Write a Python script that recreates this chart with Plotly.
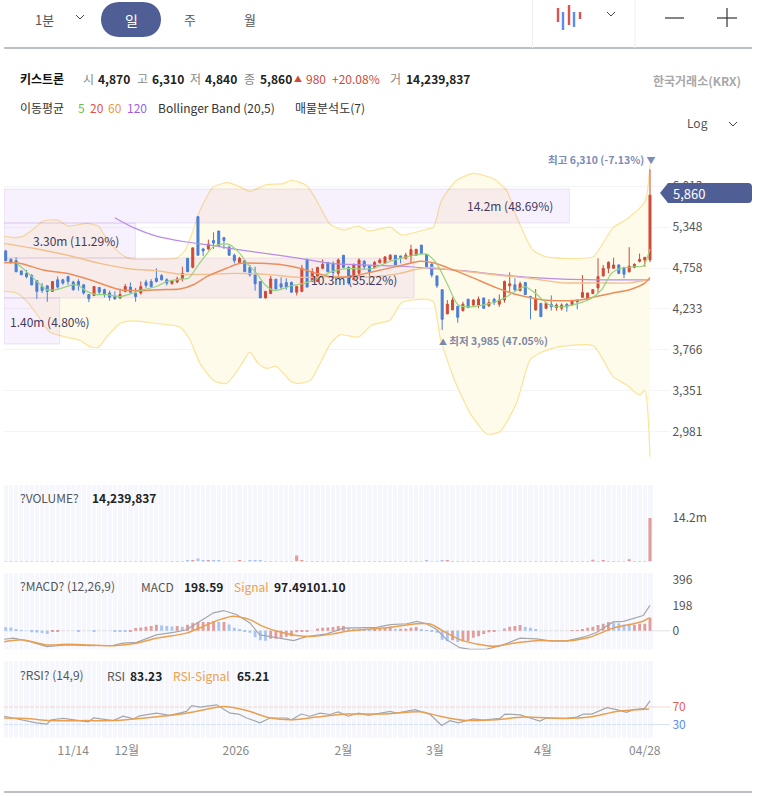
import plotly.graph_objects as go

W, H = 767, 797

# candles
opens = [4996,4877,4859,4718,4686,4655,4590,4512,4522,4450,4600,4600,4642,4570,4578,4535,4410,4397,4500,4472,4430,4385,4368,4450,4505,
         4422,4430,4570,4578,4620,4655,4600,4548,4570,4612,4892,4768,5510,5025,5025,5146,5289,5190,5050,4935,4835,4859,4767,4664,4578,
         4368,4422,4608,4548,4565,4565,4440,4450,4880,4578,4578,4754,4835,4822,4686,4935,4767,4600,4686,4850,4785,4762,4830,4822,4877,
         4935,4925,4892,4925,4935,5080,4945,4812,4652,4472,4172,4220,4265,4212,4352,4280,4280,4368,4270,4352,4290,4342,4522,4535,4460,
         4565,4385,4220,4300,4240,4290,4250,4240,4290,4280,4342,4375,4352,4422,4495,4652,4754,4754,4800,4762,4708,4767,4850,4868,4870]
highs = [5010,4890,4905,4725,4731,4675,4590,4557,4522,4580,4642,4612,4652,4587,4608,4535,4410,4512,4500,4485,4460,4450,4485,4545,4565,
         4495,4578,4600,4608,4754,4675,4620,4595,4642,4775,4892,5040,5520,5040,5160,5270,5289,5190,5073,4958,4912,4859,4800,4775,4578,
         4450,4652,4608,4632,4620,4578,4522,4800,4880,4754,4767,4877,4835,4850,4892,4935,4785,4822,4892,4868,4800,4855,4892,4912,4950,
         4935,4925,4970,5085,5020,5080,4945,4822,4652,4472,4342,4375,4265,4320,4352,4350,4385,4368,4352,4368,4410,4590,4700,4620,4578,
         4565,4395,4480,4300,4320,4400,4300,4300,4300,4340,4342,4664,4430,4472,4892,4800,4850,4900,4808,4775,5050,4822,4958,4912,6310]
lows = [4850,4820,4700,4660,4620,4526,4355,4430,4320,4448,4485,4535,4535,4460,4460,4410,4315,4395,4410,4375,4333,4342,4355,4437,4430,
        4320,4410,4495,4495,4565,4590,4526,4540,4557,4578,4708,4754,4935,4925,5006,5025,5073,5025,4925,4822,4822,4708,4642,4460,4368,
        4360,4422,4480,4472,4472,4430,4400,4440,4505,4578,4578,4740,4708,4620,4642,4754,4535,4600,4642,4740,4535,4754,4822,4822,4859,
        4800,4822,4877,4822,4935,4958,4754,4632,4495,3985,4172,4220,4068,4200,4240,4270,4240,4240,4258,4280,4258,4310,4430,4450,4450,
        4410,4108,4212,4140,4228,4212,4212,4212,4200,4275,4228,4368,4350,4420,4430,4642,4686,4745,4675,4620,4695,4754,4835,4775,4840]
closes = [4859,4830,4708,4668,4640,4535,4450,4460,4450,4578,4505,4557,4578,4472,4526,4430,4358,4512,4440,4410,4375,4358,4410,4512,4440,
          4385,4512,4526,4512,4578,4600,4557,4590,4612,4686,4708,5040,4935,4996,5095,5110,5073,5146,4935,4859,4892,4708,4664,4548,4368,
          4450,4612,4480,4505,4505,4440,4512,4754,4505,4708,4767,4808,4708,4697,4868,4767,4557,4800,4868,4775,4708,4835,4868,4912,4935,
          4800,4905,4935,5015,5020,4958,4775,4664,4522,4108,4290,4342,4132,4290,4250,4342,4352,4240,4310,4310,4342,4578,4548,4472,4548,
          4410,4375,4352,4140,4300,4258,4280,4280,4258,4333,4320,4437,4430,4472,4642,4754,4835,4800,4686,4675,4785,4808,4877,4905,5860]
index = list(range(len(closes)))

# moving averages and bollinger band: (candle position, price)
ma5_x = [2.1,4,6,7.9,9.8,11.7,13.7,15.6,17.5,19.4,22,24.6,26.5,29,31,34.2,35.2,37.1,39,40.3,42.8,44.8,46.7,48.3,49.9,51.8,55,57.6,60.2,62.7,
         66.3,68.8,70.7,74,77.2,81,82.9,84.9,87.1,89.4,93.2,95.1,96.1,98,99.9,101.9,104.4,107,110.2,112.8,114.7,116.6,118.5,121.1,122.7,124]
ma5 = [4822,4708,4578,4472,4472,4512,4535,4450,4410,4410,4385,4430,4472,4512,4578,4612,4620,4800,4982,5073,5095,4982,4800,4686,4535,4460,4522,4557,4620,4708,
       4754,4740,4754,4850,4912,4950,4822,4557,4280,4258,4300,4342,4368,4450,4512,4430,4290,4258,4300,4368,4472,4686,4754,4775,4785,5025]
ma20_x = [-0.3,2.1,4,7.2,11.7,16.2,19.4,22,25.8,29.7,33.5,36.1,38.7,42.5,45.1,48.9,53.4,56.6,59.8,62.4,66.3,70.7,76.5,79.7,82.3,84.9,89.4,94.5,98.3,103.5,107.3,110.5,113.7,116.9,120.1,123,124]
ma20 = [4830,4830,4800,4731,4686,4600,4526,4472,4460,4472,4480,4535,4642,4754,4822,4822,4800,4754,4686,4642,4642,4708,4800,4850,4830,4767,4642,4495,4410,4342,4333,4342,4385,4430,4472,4557,4632]
ma60_x = [-0.3,5.3,11.7,18.1,24.6,29,33.5,38.7,43.8,50.2,56.6,62.4,70,75.9,78.4,81.65,86.1,94.5,100.9,107.3,113.7,120.1,123.7]
ma60 = [5106,5034,4938,4822,4740,4722,4675,4672,4686,4672,4632,4642,4638,4686,4731,4767,4731,4664,4620,4560,4560,4560,4600]
ma120_x = [21,24.6,29,34.8,39.9,43.8,50.2,56.6,62.4,68.8,75.2,81.65,88,94.5,100.9,107.3,113.7,124]
ma120 = [5494,5340,5212,5125,5073,5025,4958,4892,4822,4800,4785,4754,4722,4672,4632,4608,4600,4600]

bb_up_x = [-0.3,1.5,3.4,5.3,7.2,10.1,12,15.6,17.8,19.1,20.7,23,24.6,29,32.9,34.5,35.8,37.4,40,42.8,45.1,47,50.2,53.4,55,57.9,59.8,62.4,65,67.9,69.8,74,76.2,81,82.3,83.9,86.8,90,93.8,96.4,98.3,101.5,104.1,107.3,110.5,113.1,116.9,119.5,123,124]
bb_up = [5212,5190,5212,5316,5442,5455,5364,5405,5364,5212,5050,4912,4880,4880,4892,5006,5240,5614,6000,6075,6000,5925,6040,6055,6115,6025,5776,5395,5305,5364,5289,5348,5230,5316,5340,5776,6115,6235,6145,5940,5510,5006,4912,4892,4892,4912,5340,5470,5745,6400]
bb_low_x = [-0.3,2.1,4.4,6.3,8.5,11.7,14.3,16.2,17.8,19.4,22,24.6,29,33.5,35.5,37.4,40,42.5,45.1,47,48.6,50.2,52.1,54.7,56,58.6,60.5,62.4,64.3,67.9,70.4,74,76.2,80.4,82.3,83.6,86.1,89.4,92.6,95.1,98.3,100.9,103.1,106.7,113.1,116.9,119.5,122,123,124]
bb_low = [4450,4430,4300,4140,3960,3905,3870,3800,3790,3905,4060,4090,4060,4020,3870,3620,3450,3420,3590,3740,3620,3570,3590,3450,3420,3450,3620,3825,3930,3905,4040,4100,4310,4352,4320,3905,3487,3140,2960,2979,3231,3657,3740,3800,3808,3487,3405,3309,3356,2773]

# volume by price zones, in millions
zone_low = [5411, 4896, 4367, 3828]
zone_high = [5964, 5411, 4896, 4367]
zone_volume = [14.2, 3.30, 10.3, 1.40]
zone_text = ["14.2m (48.69%)", "3.30m (11.29%)", "10.3m (35.22%)", "1.40m (4.80%)"]

# daily volume, in millions (most days are too small to see next to the last one)
volume = [0.02]*35 + [0.3,0.5,1.0,0.35,0.2,0.35,0.4,0.02,0.02,0.02,0.4,0.02,0.3,0.3,0.3,0.02,0.02,0.02,0.02,0.02,0.02,2.0,0.4] + [0.02]*23 + \
         [0.4,0.02,0.02,0.3,0.3] + [0.02]*27 + [0.6,0.02,0.3,0.02,0.02,0.02,0.02,0.7,0.02,0.02,0.02,14.24]

macd_x = [-0.3,1.5,4.7,7.9,11.7,16.2,20.7,22.6,25.2,29,32.3,34.8,37.4,40,41.9,44.4,47,48.9,52.1,55.4,57.9,61.8,65,68.2,71.4,74,77.2,79.1,81,83,84.9,87.4,89.4,92.6,95.1,99,102.2,104.7,108,111.2,113.7,116.9,118.9,122.7,124]
macd = [-66,-58,-85,-124,-111,-116,-113,-97,-90,-32,-13,8,74,140,158,127,61,-32,-53,-77,-45,-24,21,21,26,48,55,74,55,8,-71,-132,-145,-143,-119,-58,-63,-79,-79,-50,-13,69,74,119,198]
macd_sig_x = [-0.3,3.4,7.9,11.7,16.2,20.7,25.2,29,34.8,38,41.2,43.8,47,49.5,52.8,56,58.6,63,66.3,72.7,79.1,81.7,84.9,88.1,93.8,98.3,102.2,108,112.4,116.9,120.8,122.7,123.8]
macd_sig = [-85,-71,-111,-105,-111,-116,-97,-58,-18,34,87,113,87,34,-10,-37,-45,-24,0,21,55,53,-18,-79,-121,-93,-77,-79,-50,21,55,74,100]
macd_hist = [28,26,12,4,0,-12,-14,-18,-26,-10,-6,0,0,0,-4,0,0,-4,0,0,0,-4,-6,-8,-6,21,26,32,37,47,42,37,34,37,32,48,63,69,69,69,77,69,69,50,24,11,-5,-16,-50,-74,
             -77,-63,-63,-55,-47,-42,-11,-5,-5,0,18,24,26,29,37,37,24,13,16,13,11,13,16,21,32,16,16,16,24,29,11,5,-3,-16,-69,-82,-74,-87,-82,-79,-55,-42,-26,-11,-5,0,18,32,37,45,
             29,24,11,0,0,0,0,0,0,3,5,11,24,32,45,55,69,63,58,50,48,48,55,55,103]

rsi_x = [-0.3,2.8,5.9,7.9,8.8,11.1,13.7,15.9,16.9,20.7,22.6,24.6,25.8,29,31.6,34.8,35.8,37.4,40.6,43.2,44.8,46.4,48.9,50.9,54,55,56.9,58.5,60.5,62.4,64,65.9,67.9,69.8,74,75.2,78.8,81.7,83.9,85.5,87.1,90,91.9,95.1,96.1,99,100.9,102.8,104.1,108,109.9,111.2,112.8,115.7,117.6,119.5,120.8,123,124]
rsi = [49,41,34,31,41,44,40,36,45,39,49,43,50,56,51,60,73,70,75,56,54,45,34,45,45,41,54,49,56,53,59,49,56,51,60,56,64,53,28,39,34,43,40,44,54,52,45,38,45,44,47,54,54,68.5,64,58,64,67,84]
rsi_sig_x = [-0.3,4,8.5,15.6,20.7,25.8,34.8,41.9,46.4,50.9,55.4,59.8,65.6,72.7,79.7,83.6,88.1,94.5,99.6,107.3,112.4,117.6,121.4,123.8]
rsi_sig = [45,44,39,39,39,44,56,71,62,45,41,47,54,54,59,49,40,41,47,44,47,60,64,65.5]

# axis labels
date_pos = [13, 23.3, 44.3, 65, 82.6, 103.4, 123]
date_text = ["11/14", "12월", "2026", "2월", "3월", "4월", "04/28"]
price_ticks = [6013, 5348, 4758, 4233, 3766, 3351, 2981]
price_text = ["6,013", "5,348", "4,758", "4,233", "3,766", "3,351", "2,981"]

RED, BLUE = "#d04a37", "#4a7fd4"
GRID = "#f3f4f6"
FONT = "Noto Sans CJK KR"
X_RANGE = [-0.33, 124.58]


def fx(px):
    return px / W


def fy(py):
    return 1 - py / H


fig = go.Figure()

# bollinger band first, at the back
fig.add_trace(go.Scatter(x=bb_low_x, y=bb_low, mode="lines", line=dict(color="#fbe39a", width=1.2, shape="spline", smoothing=0.6),
                         xaxis="x", yaxis="y"))
fig.add_trace(go.Scatter(x=bb_up_x, y=bb_up, mode="lines", line=dict(color="#fbe39a", width=1.2, shape="spline", smoothing=0.6),
                         fill="tonexty", fillcolor="#fffbea", xaxis="x", yaxis="y"))

# price zones on their own axis in millions
for lo, hi, v in zip(zone_low, zone_high, zone_volume):
    fig.add_trace(go.Scatter(x=[0, v, v, 0, 0], y=[lo, lo, hi, hi, lo], mode="lines", fill="toself",
                             fillcolor="rgba(165,90,235,0.09)", line=dict(color="rgba(130,70,190,0.12)", width=1),
                             xaxis="x2", yaxis="y"))

# candles and averages
fig.add_trace(go.Candlestick(x=index, open=opens, high=highs, low=lows, close=closes, whiskerwidth=0,
                             increasing=dict(line=dict(color=RED, width=1), fillcolor=RED),
                             decreasing=dict(line=dict(color=BLUE, width=1), fillcolor=BLUE),
                             xaxis="x3", yaxis="y"))
for xs, ys, col, w in [(ma120_x, ma120, "#b88ce8", 1.2), (ma60_x, ma60, "#f2bf8e", 1.4),
                       (ma20_x, ma20, "#ec8d5c", 1.5), (ma5_x, ma5, "#93d47e", 1.2)]:
    fig.add_trace(go.Scatter(x=xs, y=ys, mode="lines", line=dict(color=col, width=w, shape="spline", smoothing=0.7),
                             xaxis="x3", yaxis="y"))

# volume panel
vol_colors = ["#e39c9c" if c >= o else "#a9c4f5" for o, c in zip(opens, closes)]
fig.add_trace(go.Bar(x=index, y=volume, width=0.6, marker=dict(color=vol_colors, line_width=0), xaxis="x4", yaxis="y2"))

# macd panel, bars are red when rising and blue when falling
hist_colors = ["#a9c4f5"] + ["#e39c9c" if macd_hist[i] >= macd_hist[i - 1] else "#a9c4f5" for i in range(1, len(macd_hist))]
fig.add_trace(go.Bar(x=index, y=macd_hist, width=0.55, marker=dict(color=hist_colors, line_width=0), xaxis="x5", yaxis="y3"))
fig.add_trace(go.Scatter(x=macd_x, y=macd, mode="lines", line=dict(color="#a3a6ab", width=1.2), xaxis="x5", yaxis="y3"))
fig.add_trace(go.Scatter(x=macd_sig_x, y=macd_sig, mode="lines", line=dict(color="#ea9f4f", width=1.5, shape="spline", smoothing=0.7),
                         xaxis="x5", yaxis="y3"))

# rsi panel
fig.add_trace(go.Scatter(x=rsi_x, y=rsi, mode="lines", line=dict(color="#a3a6ab", width=1.2), xaxis="x6", yaxis="y4"))
fig.add_trace(go.Scatter(x=rsi_sig_x, y=rsi_sig, mode="lines", line=dict(color="#ea9f4f", width=1.5, shape="spline", smoothing=0.7),
                         xaxis="x6", yaxis="y4"))

shapes = []


def line(x0, y0, x1, y1, color, width=1):
    shapes.append(dict(type="line", xref="paper", yref="paper", x0=fx(x0), y0=fy(y0), x1=fx(x1), y1=fy(y1),
                       line=dict(color=color, width=width)))


def path(points, color=None, fill=None, width=1.2, layer="above"):
    # points are plain page pixels
    d = ""
    for p in points:
        if isinstance(p, str):
            d += p
        else:
            d += f"{fx(p[0]):.5f},{fy(p[1]):.5f} "
    s = dict(type="path", xref="paper", yref="paper", path=d, layer=layer, line=dict(width=0))
    if color:
        s["line"] = dict(color=color, width=width)
    if fill:
        s["fillcolor"] = fill
    shapes.append(s)


def chevron(x, y, color="#444"):
    path(["M", (x - 4, y - 2), "L", (x, y + 2), "L", (x + 4, y - 2)], color=color, width=1)


# panel backgrounds under the stripes
for top, bot in [(485, 561.5), (573, 649.5), (661, 737.7)]:
    shapes.append(dict(type="rect", xref="paper", yref="paper", x0=fx(4), x1=fx(653), y0=fy(bot), y1=fy(top),
                       fillcolor="#f5f7fc", line=dict(width=0), layer="below"))

# reference lines that run past the panel
shapes.append(dict(type="line", xref="paper", yref="y3", x0=fx(4), x1=fx(670), y0=0, y1=0, line=dict(color="#dfe0e4", width=1), layer="below"))
shapes.append(dict(type="line", xref="paper", yref="y4", x0=fx(4), x1=fx(670), y0=70, y1=70, line=dict(color="#f5d5d2", width=1), layer="below"))
shapes.append(dict(type="line", xref="paper", yref="y4", x0=fx(4), x1=fx(670), y0=30, y1=30, line=dict(color="#d4e2fb", width=1), layer="below"))

# top toolbar
path(["M", (119, 2), "L", (143, 2), "C", (167, 2), " ", (167, 37), " ", (143, 37), "L", (119, 37), "C", (95, 37), " ", (95, 2), " ", (119, 2), "Z"],
     fill="#4f5f96")
line(4, 48, 752, 48, "#7b808a", 1)
line(532.5, 0, 532.5, 48, "#eeeeee", 1)
line(635, 0, 635, 48, "#eeeeee", 1)
line(4, 792, 752, 792, "#7b808a", 1)
chevron(80, 17)
chevron(611, 14)
chevron(733, 124)
line(665, 18, 684, 18, "#333333", 1.2)
line(717, 18, 737, 18, "#333333", 1.2)
line(727, 8, 727, 27, "#333333", 1.2)
for x0, y0, y1, col in [(558, 8, 22, "#d9534f"), (563, 12, 30, "#5b8def"), (569, 5, 25, "#d9534f"),
                        (574, 12, 27, "#5b8def"), (580, 12, 19, "#d9534f")]:
    line(x0, y0, x0, y1, col, 2.4)

# price flag
path(["M", (660, 193), "L", (668, 183), "L", (748, 183), "Q", (752, 183), " ", (752, 187), "L", (752, 199), "Q", (752, 203), " ", (748, 203), "L", (668, 203), "Z"],
     fill="#4f5f96")

annotations = []


def label(text, x, y, size=12, color="#333333", anchor="left"):
    annotations.append(dict(text=text, xref="paper", yref="paper", x=fx(x), y=fy(y), xanchor=anchor, yanchor="middle",
                            showarrow=False, borderpad=0, borderwidth=0, font=dict(size=size, color=color, family=FONT)))


label("1분", 44, 19, 13, "#555555", "center")
label("일", 131, 20, 14, "#ffffff", "center")
label("주", 190, 19, 13, "#555555", "center")
label("월", 250, 19, 13, "#555555", "center")

label("<b>키스트론</b>", 20, 78, 12, "#111111")
for text, x in [("시", 83), ("고", 137), ("저", 190), ("종", 244), ("거", 390)]:
    label(text, x, 78, 12, "#888888")
for text, x in [("4,870", 98), ("6,310", 152), ("4,840", 205), ("5,860", 260), ("14,239,837", 406)]:
    label(f"<b>{text}</b>", x, 78, 12, "#222222")
label("▲", 294, 78, 8, "#d04a37")
label("980", 306, 78, 12, "#d04a37")
label("+20.08%", 332, 78, 12, "#d04a37")
label("<b>한국거래소(KRX)</b>", 741, 80, 12, "#a8a8a8", "right")

label("이동평균", 20, 108, 12, "#333333")
label("5", 77.5, 108, 12, "#6abf4b")
label("20", 90, 108, 12, "#e0524d")
label("60", 108, 108, 12, "#ec9a45")
label("120", 126.5, 108, 12, "#9a5fe8")
label("Bollinger Band (20,5)", 158, 108, 12, "#333333")
label("매물분석도(7)", 294.5, 108, 12, "#333333")
label("Log", 697, 123, 12, "#555555", "center")

label('<b>최고 6,310 (-7.13%)</b> <span style="font-size:9px">▼</span>', 656, 159, 10.5, "#7c8bb8", "right")
label('<span style="font-size:8px">▲</span> <b>최저 3,985 (47.05%)</b>', 439, 340, 10.5, "#7d87a6")
label("5,860", 673, 193.5, 13, "#ffffff")

for text, x, y in zip(zone_text, [467, 33, 311, 10], [205, 241, 279, 321]):
    label(text, x, y, 12, "#46395c")

label("?VOLUME?", 20, 497, 12, "#555555")
label("<b>14,239,837</b>", 92, 497, 12, "#222222")
label("?MACD? (12,26,9)", 20, 585, 12, "#555555")
label("MACD", 141, 586, 12, "#555555")
label("<b>198.59</b>", 184, 586, 12, "#222222")
label("Signal", 234, 586, 12, "#ea9f4f")
label("<b>97.49101.10</b>", 274, 586, 12, "#222222")
label("?RSI? (14,9)", 20, 674, 12, "#555555")
label("RSI", 107, 675, 12, "#555555")
label("<b>83.23</b>", 130, 675, 12, "#222222")
label("RSI-Signal", 173, 675, 12, "#ea9f4f")
label("<b>65.21</b>", 237, 675, 12, "#222222")

hidden = dict(visible=False, showgrid=False, zeroline=False)
stripes = dict(range=X_RANGE, showgrid=True, gridcolor="#ffffff", gridwidth=1, dtick=1, tick0=0.5, zeroline=False,
               showticklabels=False, ticks="", rangeslider=dict(visible=False))
ticks_right = dict(side="right", ticks="outside", ticklen=16, tickcolor="rgba(0,0,0,0)", showgrid=False, zeroline=False,
                   tickfont=dict(size=12, color="#555555", family=FONT))

fig.update_layout(
    width=W, height=H, margin=dict(l=0, r=0, t=0, b=0, autoexpand=False), autosize=False, showlegend=False,
    paper_bgcolor="#ffffff", plot_bgcolor="#ffffff", hovermode=False, boxgap=0.45,
    shapes=shapes, annotations=annotations,
    xaxis=dict(domain=[fx(4), fx(653)], range=X_RANGE, rangeslider=dict(visible=False), anchor="y", **hidden),
    xaxis2=dict(domain=[fx(4), fx(653)], overlaying="x", range=[0, 16.3], anchor="y", **hidden),
    xaxis3=dict(domain=[fx(4), fx(653)], overlaying="x", range=X_RANGE, rangeslider=dict(visible=False), anchor="y", **hidden),
    yaxis=dict(domain=[fy(465), fy(150)], type="log", range=[3.43273, 3.82399], side="right", anchor="x",
               tickmode="array", tickvals=price_ticks, ticktext=price_text, showgrid=True, gridcolor=GRID, zeroline=False,
               ticks="outside", ticklen=16, tickcolor=GRID, tickfont=dict(size=12, color="#555555", family=FONT)),
    xaxis4=dict(domain=[fx(4), fx(653)], anchor="y2", **stripes),
    yaxis2=dict(domain=[fy(561.5), fy(485)], range=[0, 25], anchor="x4", tickmode="array", tickvals=[14.24], ticktext=["14.2m"], **ticks_right),
    xaxis5=dict(domain=[fx(4), fx(653)], anchor="y3", **stripes),
    yaxis3=dict(domain=[fy(649.5), fy(573)], range=[-146, 451], anchor="x5", tickmode="array", tickvals=[0, 198, 396], ticktext=["0", "198", "396"], **ticks_right),
    xaxis6=dict(domain=[fx(4), fx(653)], anchor="y4", **stripes),
    yaxis4=dict(domain=[fy(737.7), fy(661)], range=[0, 175], anchor="x6", tickmode="array", tickvals=[30, 70],
                ticktext=['<span style="color:#5b8def">30</span>', '<span style="color:#e0605a">70</span>'], **ticks_right),
)
# date labels sit under the last panel, on an axis of their own
fig.update_layout(xaxis7=dict(domain=[fx(4), fx(653)], overlaying="x6", anchor="y4", range=X_RANGE, side="bottom",
                              tickmode="array", tickvals=date_pos, ticktext=date_text, showgrid=False, zeroline=False,
                              ticks="outside", ticklen=2, tickcolor="rgba(0,0,0,0)",
                              tickfont=dict(size=12, color="#888888", family=FONT)))
fig.add_trace(go.Scatter(x=[], y=[], xaxis="x7", yaxis="y4"))

fig.write_html("out.html", config=dict(displayModeBar=False), post_script="document.body.style.margin='0';")
